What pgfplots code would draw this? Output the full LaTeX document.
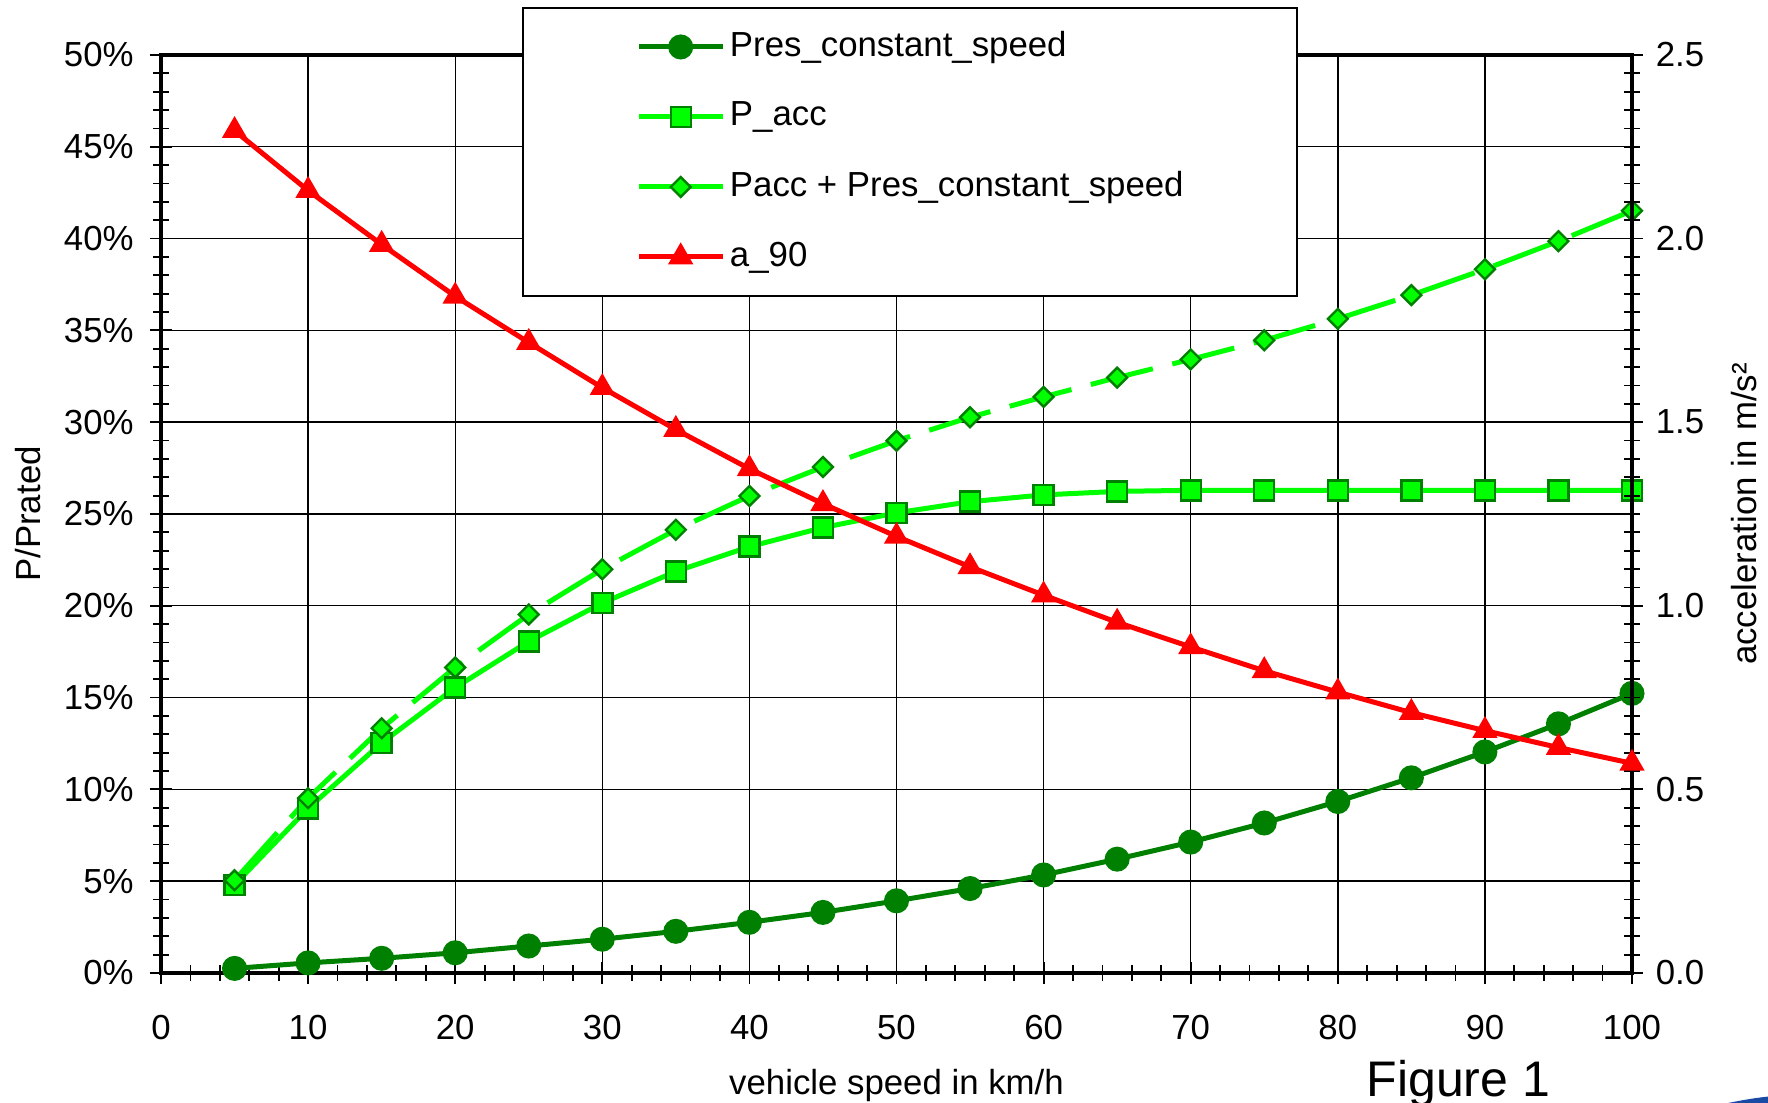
\documentclass[border=0pt]{standalone}
\usepackage{fontspec}
\setmainfont{Liberation Sans}
\usepackage{pgfplots}
\usepackage{pgfplotstable}
\pgfplotsset{compat=1.18}
\definecolor{dkgreen}{RGB}{0,128,0}
\definecolor{ltgreen}{RGB}{0,255,0}
\definecolor{myred}{RGB}{255,0,0}
\definecolor{logoblue}{RGB}{25,75,165}

\pgfplotstableread{
x pres pacc sum
5 0.25 4.80 5.05
10 0.55 8.97 9.52
15 0.80 12.53 13.33
20 1.10 15.54 16.64
25 1.47 18.06 19.53
30 1.84 20.15 21.99
35 2.27 21.87 24.14
40 2.76 23.22 25.98
45 3.30 24.26 27.56
50 3.93 25.06 28.99
55 4.60 25.67 30.27
60 5.34 26.04 31.38
65 6.20 26.23 32.43
70 7.13 26.29 33.42
75 8.17 26.29 34.46
80 9.34 26.29 35.63
85 10.63 26.29 36.92
90 12.04 26.29 38.33
95 13.57 26.29 39.86
100 15.23 26.29 41.52
}\powertable

\pgfplotstableread{
x a
5 2.294
10 2.131
15 1.984
20 1.843
25 1.717
30 1.594
35 1.480
40 1.373
45 1.278
50 1.189
55 1.106
60 1.029
65 0.955
70 0.888
75 0.823
80 0.765
85 0.709
90 0.660
95 0.614
100 0.571
}\acctable

\pgfplotsset{
  common/.style={
    at={(40.25pt,32.5pt)}, anchor=south west,
    scale only axis, width=367.75pt, height=229.5pt,
    xmin=0, xmax=100,
    clip=false,
    tick align=center,
    major tick length=5.5pt, minor tick length=4pt,
    tick style={black, line width=0.45pt},
    axis line style={black, line width=0.8pt},
    /pgf/number format/assume math mode=true,
    tick label style={font=\fontsize{8.7pt}{10pt}\selectfont},
    label style={font=\fontsize{8.7pt}{10pt}\selectfont},
  },
  pres/.style={dkgreen, line width=1.25pt, mark=*, mark size=2.5pt, mark options={solid, fill=dkgreen, draw=dkgreen}},
  paccst/.style={ltgreen, line width=1.25pt, mark=square*, mark size=2.5pt, mark options={solid, fill=ltgreen, draw=dkgreen, line width=0.6pt}},
  sumst/.style={ltgreen, line width=1.25pt, dash pattern=on 16pt off 5pt, mark=square*, mark size=1.75pt, mark options={solid, rotate=45, fill=ltgreen, draw=dkgreen, line width=0.6pt}},
  accst/.style={myred, line width=1.25pt, mark=triangle*, mark size=2.4pt, mark options={solid, fill=myred, draw=myred}},
}

\begin{document}
\begin{tikzpicture}[font=\fontsize{8.7pt}{10pt}\selectfont]
\useasboundingbox (0,0) rectangle (442pt,275.75pt);
\begin{axis}[
  common,
  ymin=0, ymax=50,
  xtick={0,10,...,100}, ytick={0,5,...,50},
  minor x tick num=4, minor y tick num=4,
  xtick pos=bottom, ytick pos=left,
  grid=major, major grid style={black, line width=0.35pt},
  yticklabel={\pgfmathprintnumber{\tick}\%},
  xticklabel style={anchor=center, inner sep=0pt, yshift=-11pt},
  yticklabel style={anchor=east, inner sep=0pt, xshift=-3.9pt},
  xlabel={vehicle speed in km/h}, ylabel={P/Prated},
  xlabel style={at={(axis description cs:0.5,-0.123)}, anchor=center},
  ylabel style={at={(axis description cs:-0.0904,0.5)}, anchor=center},
]
\addplot[pres] table[x=x, y=pres] {\powertable};
\addplot[paccst] table[x=x, y=pacc] {\powertable};
\addplot[sumst] table[x=x, y=sum] {\powertable};
\node[anchor=base, font=\fontsize{12.5pt}{14pt}\selectfont] at (rel axis cs:0.882,-0.134) {Figure 1};
\end{axis}
\begin{axis}[
  common,
  ymin=0, ymax=2.5,
  axis y line*=right, axis x line=none,
  ytick={0,0.5,1,1.5,2,2.5}, minor y tick num=9,
  yticklabel style={anchor=west, inner sep=0pt, xshift=3pt,
    /pgf/number format/.cd, fixed, fixed zerofill, precision=1},
  ylabel={acceleration in m/s²},
  ylabel style={at={(axis description cs:1.0761,0.5)}, anchor=center},
  legend cell align=left,
  legend image code/.code={\draw[mark repeat=2, mark phase=2, #1] plot coordinates {(0pt,0pt) (10.5pt,0pt) (21pt,0pt)};},
  legend style={at={(0.2454,1.0523)}, anchor=north west, draw=black, line width=0.5pt, fill=white,
    inner xsep=28.3pt, inner ysep=1pt, row sep=0pt, column sep=1.2pt,
    font=\fontsize{8.7pt}{10pt}\selectfont,
    nodes={minimum height=17.5pt, inner sep=0pt}},
]
\addlegendimage{pres}
\addlegendentry{Pres\_constant\_speed}
\addlegendimage{paccst}
\addlegendentry{P\_acc}
\addlegendimage{sumst, solid}
\addlegendentry{Pacc + Pres\_constant\_speed}
\addplot[accst] table[x=x, y=a] {\acctable};
\addlegendentry{a\_90}
\end{axis}
\fill[logoblue] (432pt,0pt) .. controls (436pt,0.8pt) and (439pt,1.3pt) .. (442pt,1.6pt) -- (442pt,0pt) -- cycle;
\end{tikzpicture}
\end{document}
